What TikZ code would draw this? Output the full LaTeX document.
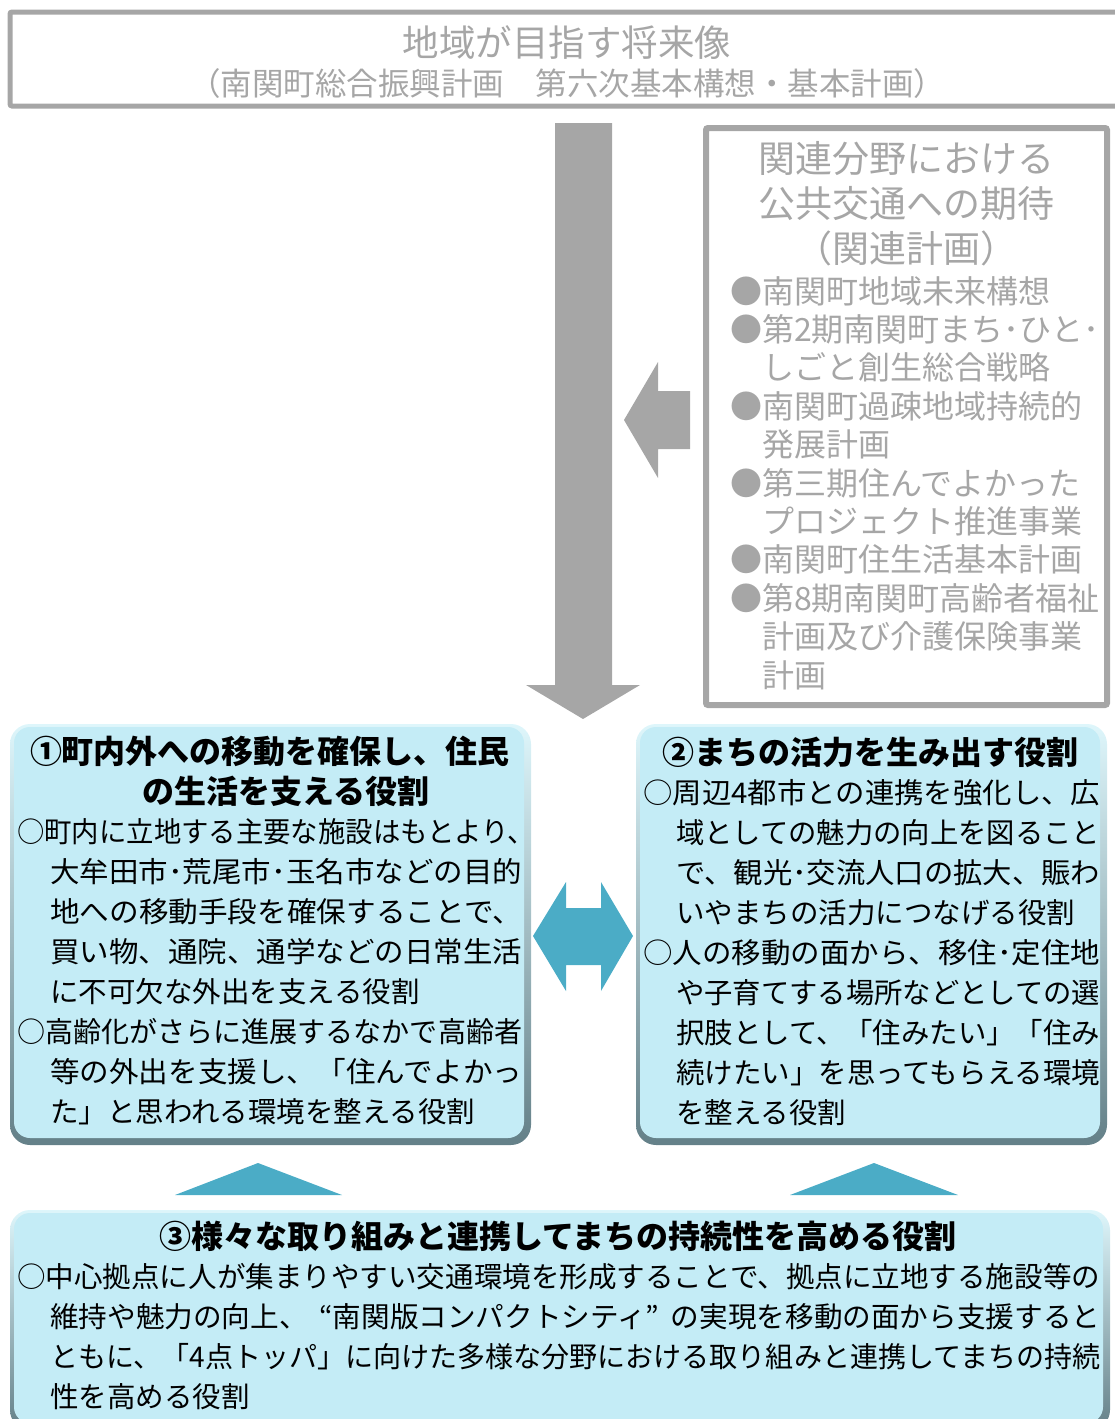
\documentclass[tikz,border=0pt]{standalone}
\usepackage{fontspec}
\usepackage{graphicx}
\setmainfont{Noto Sans CJK JP}
\usetikzlibrary{calc}

\definecolor{linegray}{RGB}{166,166,166}
\definecolor{arrowblue}{RGB}{75,172,198}
\definecolor{rolefill}{RGB}{196,236,246}
\definecolor{roletop}{RGB}{222,246,251}
\definecolor{roledark}{RGB}{100,128,136}

% stretch one line of text to a given width, like justified text
\newcommand\jline[2]{\resizebox{#1pt}{\height}{#2}}

\tikzset{
  grayframe/.style={draw=linegray, line width=6, rounded corners=2},
  graytext/.style={text=linegray, inner sep=0},
  rolebox/.style={rounded corners=20, top color=roletop, bottom color=roledark},
  roleinner/.style={fill=rolefill, rounded corners=16},
  rolehead/.style={font=\fontsize{32}{40}\selectfont\bfseries, inner sep=0, align=center},
  rolebody/.style={font=\fontsize{28.5}{40}\selectfont, inner sep=0, align=left, anchor=north west},
}

\begin{document}
\begin{tikzpicture}[x=1pt, y=-1pt]
        \useasboundingbox (0,0) rectangle (1115,1419);

        % goal of the area
        \draw[grayframe, line width=5] (10,12) rectangle (1130,106);
        \node[graytext, font=\fontsize{36.5}{40}\selectfont] (goal) at (567,43) {地域が目指す将来像};
        \node[graytext, font=\fontsize{31.5}{36}\selectfont] (goalsub) at (567,84)
            {（南関町総合振興計画　第六次基本構想・基本計画）};

        % gray arrows
        \fill[linegray] (555,123) -- (612,123) -- (612,685) -- (640,685) -- (583,719)
            -- (526,685) -- (555,685) -- cycle;
        \fill[linegray] (690,391) -- (658,391) -- (658,362) -- (624,420) -- (658,478)
            -- (658,449) -- (690,449) -- cycle;

        % related plans
        \draw[grayframe] (706,128) rectangle (1107,705);
        \node[graytext, align=center, anchor=north, font=\fontsize{37}{45}\selectfont] (reltitle)
            at (906,141.5) {関連分野における\\公共交通への期待\\（関連計画）};
        \node[graytext, align=left, anchor=north west, font=\fontsize{32}{38.4}\selectfont] (rellist)
            at (730,276) {●南関町地域未来構想\\
            ●第2期南関町まち･ひと･\\
            \hspace*{32pt}しごと創生総合戦略\\
            ●南関町過疎地域持続的\\
            \hspace*{32pt}発展計画\\
            ●第三期住んでよかった\\
            \hspace*{32pt}プロジェクト推進事業\\
            ●南関町住生活基本計画\\
            ●第8期南関町高齢者福祉\\
            \hspace*{32pt}計画及び介護保険事業\\
            \hspace*{32pt}計画};

        % role boxes
        \shade[rolebox] (10,724) rectangle (531,1145);
        \fill[roleinner] (14,727) rectangle (524,1138);
        \shade[rolebox] (636,724) rectangle (1107,1145);
        \fill[roleinner] (640,727) rectangle (1100,1138);
        \shade[rolebox] (10,1210) rectangle (1110,1430);
        \fill[roleinner] (14,1213) rectangle (1103,1423);

        \node[rolehead, anchor=north] (role1head) at (270,736)
            {①町内外への移動を確保し、住民\\\hspace*{32pt}の生活を支える役割};
        \node[rolebody] (role1body) at (17,818.75)
            {\jline{518}{○町内に立地する主要な施設はもとより、}\\
            \hspace*{33pt}\jline{472}{大牟田市･荒尾市･玉名市などの目的}\\
            \hspace*{33pt}\jline{472}{地への移動手段を確保することで、}\\
            \hspace*{33pt}\jline{472}{買い物、通院、通学などの日常生活}\\
            \hspace*{33pt}に不可欠な外出を支える役割\\
            \jline{505}{○高齢化がさらに進展するなかで高齢者}\\
            \hspace*{33pt}\jline{472}{等の外出を支援し、「住んでよかっ}\\
            \hspace*{33pt}た」と思われる環境を整える役割};

        \node[rolehead] (role2head) at (870,752) {②まちの活力を生み出す役割};
        \node[rolebody] (role2body) at (643,778.75)
            {\jline{457}{○周辺4都市との連携を強化し、広}\\
            \hspace*{33pt}\jline{424}{域としての魅力の向上を図ること}\\
            \hspace*{33pt}\jline{424}{で、観光･交流人口の拡大、賑わ}\\
            \hspace*{33pt}いやまちの活力につなげる役割\\
            \jline{457}{○人の移動の面から、移住･定住地}\\
            \hspace*{33pt}\jline{424}{や子育てする場所などとしての選}\\
            \hspace*{33pt}\jline{424}{択肢として、「住みたい」「住み}\\
            \hspace*{33pt}\jline{424}{続けたい」を思ってもらえる環境}\\
            \hspace*{33pt}を整える役割};

        \node[rolehead] (role3head) at (558,1236) {③様々な取り組みと連携してまちの持続性を高める役割};
        \node[rolebody] (role3body) at (17,1262.75)
            {\jline{1083}{○中心拠点に人が集まりやすい交通環境を形成することで、拠点に立地する施設等の}\\
            \hspace*{33pt}\jline{1050}{維持や魅力の向上、\hspace{0.4em}“南関版コンパクトシティ”\hspace{0.4em}の実現を移動の面から支援すると}\\
            \hspace*{33pt}\jline{1050}{ともに、「4点トッパ」に向けた多様な分野における取り組みと連携してまちの持続}\\
            \hspace*{33pt}性を高める役割};

        % blue arrows
        \fill[arrowblue] (533,936) -- (566,882) -- (566,908) -- (601,908) -- (601,882) -- (633,936)
            -- (601,991) -- (601,965) -- (566,965) -- (566,991) -- cycle;
        \fill[arrowblue] (175,1195) -- (258,1163) -- (342,1195) -- cycle;
        \fill[arrowblue] (790,1195) -- (874,1163) -- (958,1195) -- cycle;
    \end{tikzpicture}
\end{document}
